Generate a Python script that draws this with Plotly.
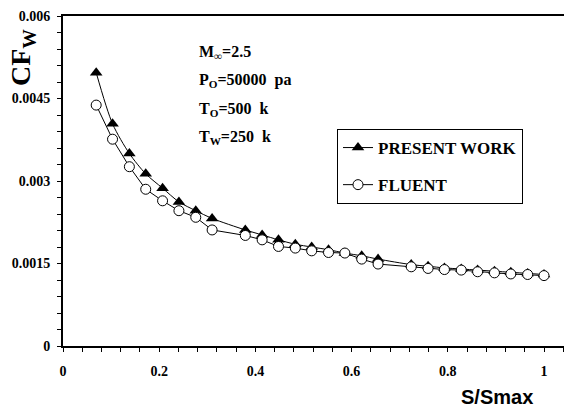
import plotly.graph_objects as go

# ---- data ----
s_present = [0.069, 0.103, 0.138, 0.172, 0.207, 0.241, 0.276, 0.310, 0.379, 0.414,
             0.448, 0.483, 0.517, 0.552, 0.586, 0.621, 0.655, 0.724, 0.759, 0.793,
             0.828, 0.862, 0.897, 0.931, 0.966, 1.000]
cf_present = [0.00497, 0.00404, 0.00350, 0.00313, 0.00287, 0.00262, 0.00246, 0.00232,
              0.00211, 0.00202, 0.00193, 0.00185, 0.00180, 0.00175, 0.00169, 0.00164,
              0.00158, 0.00148, 0.00145, 0.00142, 0.00140, 0.00138, 0.00136, 0.00134,
              0.00132, 0.00130]

s_fluent = [0.069, 0.103, 0.138, 0.172, 0.207, 0.241, 0.276, 0.310, 0.379, 0.414,
            0.448, 0.483, 0.517, 0.552, 0.586, 0.621, 0.655, 0.724, 0.759, 0.793,
            0.828, 0.862, 0.897, 0.931, 0.966, 1.000]
cf_fluent = [0.00438, 0.00376, 0.00326, 0.00285, 0.00264, 0.00246, 0.00234, 0.00211,
             0.00201, 0.00193, 0.00181, 0.00178, 0.00173, 0.00170, 0.00169, 0.00158,
             0.00149, 0.00144, 0.00141, 0.00139, 0.00138, 0.00135, 0.00133, 0.00131,
             0.00130, 0.00128]

x_tickvals = [0, 0.2, 0.4, 0.6, 0.8, 1]
x_ticktext = ["0", "0.2", "0.4", "0.6", "0.8", "1"]
y_tickvals = [0, 0.0015, 0.003, 0.0045, 0.006]
y_ticktext = ["0", "0.0015", "0.003", "0.0045", "0.006"]

series_names = ["PRESENT WORK", "FLUENT"]
conditions = ["M<sub>∞</sub>=2.5", "P<sub>O</sub>=50000  pa",
              "T<sub>O</sub>=500  k", "T<sub>W</sub>=250  k"]

SERIF = "Liberation Serif"
SANS = "Liberation Sans"

fig = go.Figure()
fig.add_trace(go.Scatter(
    x=s_present, y=cf_present, name=series_names[0], mode="lines+markers",
    line=dict(color="black", width=1, shape="spline", smoothing=0.8),
    marker=dict(symbol="triangle-up", size=11, color="black"),
    legendgroup="a"))
fig.add_trace(go.Scatter(
    x=s_fluent, y=cf_fluent, name=series_names[1], mode="lines+markers",
    line=dict(color="black", width=1),
    marker=dict(symbol="circle", size=10, color="white",
                line=dict(color="black", width=1)),
    legendgroup="b"))

W, H = 564, 409
L, R, T, B = 63, 0, 16, 63
pw, ph = W - L - R, H - T - B


def px_x(px):
    return (px - L) / pw


def px_y(py):
    return (H - B - py) / ph


x_max = (W - L) / 481.0

fig.update_layout(
    width=W, height=H,
    margin=dict(l=L, r=R, t=T, b=B, pad=0),
    paper_bgcolor="white", plot_bgcolor="white",
    font=dict(family=SERIF, color="black", size=14),
    showlegend=True,
    legend=dict(
        x=px_x(337), y=px_y(129), xanchor="left", yanchor="top",
        bordercolor="black", borderwidth=1, bgcolor="white",
        font=dict(family=SERIF, size=17, color="black", weight="bold"),
        tracegroupgap=12, itemwidth=30,
    ),
    xaxis=dict(
        range=[0, x_max], tickvals=x_tickvals, ticktext=x_ticktext,
        showgrid=False, zeroline=False,
        showline=True, linecolor="black", linewidth=2, mirror=True,
        ticks="outside", ticklen=4, tickwidth=1, tickcolor="black",
        minor=dict(dtick=0.04, ticks="outside", ticklen=4, tickcolor="black",
                   showgrid=False),
        tickfont=dict(family=SERIF, size=14, color="black", weight="bold"),
        ticklabelstandoff=7,
    ),
    yaxis=dict(
        range=[0, 0.006], tickvals=y_tickvals, ticktext=y_ticktext,
        showgrid=False, zeroline=False,
        showline=True, linecolor="black", linewidth=2,
        ticks="outside", ticklen=4, tickwidth=1, tickcolor="black",
        minor=dict(dtick=0.0003, ticks="outside", ticklen=4, tickcolor="black",
                   showgrid=False),
        tickfont=dict(family=SERIF, size=14, color="black", weight="bold"),
        ticklabelstandoff=4,
    ),
)

annotations = []
for i, txt in enumerate(conditions):
    annotations.append(dict(
        text="<b>" + txt + "</b>", xref="paper", yref="paper",
        x=px_x(197), y=px_y(52 + i * 28.5), xanchor="left", yanchor="middle",
        showarrow=False, font=dict(family=SERIF, size=16, color="black")))

annotations.append(dict(
    text="<b>CF<sub>W</sub></b>", xref="paper", yref="paper",
    x=px_x(22), y=px_y(58), xanchor="center", yanchor="middle",
    textangle=-90, showarrow=False,
    font=dict(family=SERIF, size=28, color="black")))

annotations.append(dict(
    text="<b>S/Smax</b>", xref="paper", yref="paper",
    x=px_x(497), y=px_y(397), xanchor="center", yanchor="middle",
    showarrow=False, font=dict(family=SANS, size=20, color="black")))

fig.update_layout(annotations=annotations)

fig.write_html("out.html")
